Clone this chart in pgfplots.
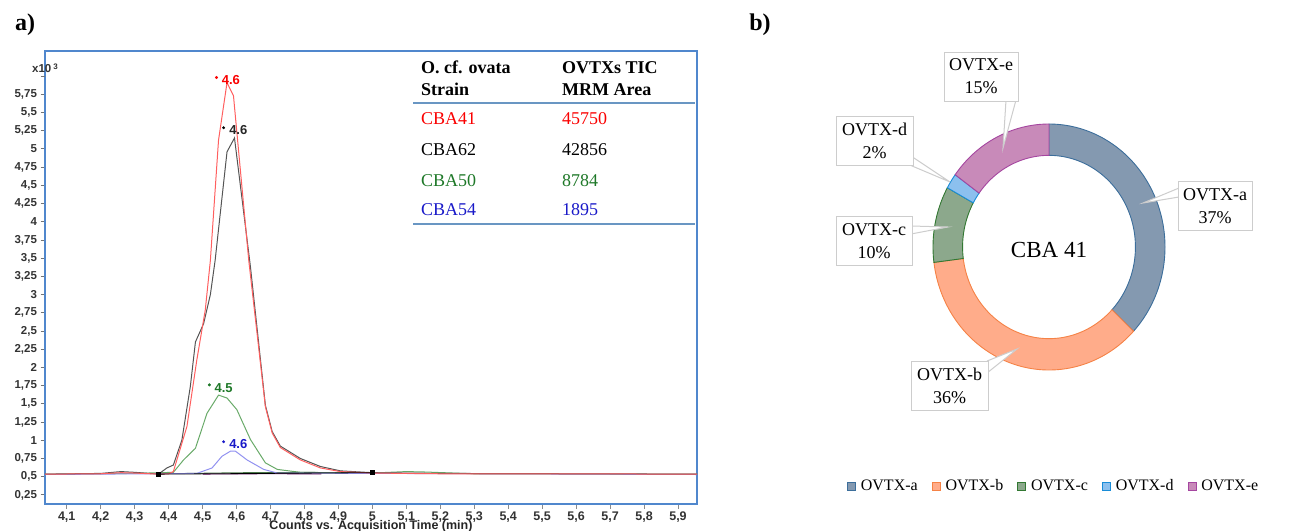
\documentclass[border=0pt]{standalone}
\usepackage{fontspec}
\setmainfont{Liberation Serif}
\newfontfamily\arial{Liberation Sans}
\usepackage{pgfplots}
\pgfplotsset{compat=1.18}
\definecolor{frameblue}{RGB}{80,135,205}
\definecolor{tblue}{RGB}{105,150,195}
\definecolor{redline}{RGB}{255,95,95}
\definecolor{blackline}{RGB}{85,85,85}
\definecolor{greenline}{RGB}{105,170,105}
\definecolor{blueline}{RGB}{145,145,240}
\definecolor{tred}{RGB}{250,0,0}
\definecolor{tgreen}{RGB}{30,120,40}
\definecolor{tblu}{RGB}{25,25,200}
\definecolor{afill}{RGB}{132,153,176}
\definecolor{adraw}{RGB}{60,110,155}
\definecolor{bfill}{RGB}{255,172,138}
\definecolor{bdraw}{RGB}{245,130,70}
\definecolor{cfill}{RGB}{140,168,140}
\definecolor{cdraw}{RGB}{50,120,50}
\definecolor{dfill}{RGB}{140,192,238}
\definecolor{ddraw}{RGB}{25,140,215}
\definecolor{efill}{RGB}{200,138,185}
\definecolor{edraw}{RGB}{165,70,160}
\definecolor{boxgray}{RGB}{205,205,205}
\begin{document}
\begin{tikzpicture}[x=1pt,y=1pt]
\useasboundingbox (0,0) rectangle (1289,-530);
% ---------------- panel a ----------------
\begin{axis}[
  at={(45pt,-504pt)}, anchor=south west, scale only axis,
  width=652pt, height=453pt,
  xmin=4.036, xmax=5.956, ymin=0.125, ymax=6.344,
  axis line style={draw=frameblue, line width=1.3pt},
  xtick={4.1,4.2,4.3,4.4,4.5,4.6,4.7,4.8,4.9,5,5.1,5.2,5.3,5.4,5.5,5.6,5.7,5.8,5.9},
  ytick={0.25,0.5,0.75,1,1.25,1.5,1.75,2,2.25,2.5,2.75,3,3.25,3.5,3.75,4,4.25,4.5,4.75,5,5.25,5.5,5.75},
  extra y ticks={6}, extra y tick labels={},
  ytick pos=left, xtick pos=bottom,
  tick align=outside, major tick length=4.5pt,
  ytick style={draw=black!55, line width=0.9pt},
  xtick style={draw=black!45, line width=0.9pt},
  extra y tick style={ytick style={draw=black!55, line width=0.9pt}},
  tick label style={font=\arial\bfseries\fontsize{11.5}{12}\selectfont, text=black!80},
  xticklabel style={font=\arial\bfseries\fontsize{12.5}{13}\selectfont},
  /pgf/number format/use comma, /pgf/number format/fixed,
  /pgf/number format/precision=2, /pgf/number format/assume math mode=true,
  clip=false,
]
\addplot[greenline, line width=1pt] coordinates {
(4.036,0.535) (4.2,0.54) (4.3,0.545) (4.414,0.56) (4.444,0.73) (4.479,0.89)
(4.513,1.37) (4.547,1.62) (4.572,1.58) (4.601,1.42) (4.641,1.01) (4.685,0.69)
(4.720,0.60) (4.788,0.56) (5.0,0.55) (5.1,0.57) (5.15,0.565) (5.3,0.54) (5.956,0.535)};
\addplot[greenline!70!black, line width=0.8pt] coordinates {
(4.45,0.545) (4.6,0.555) (4.8,0.56) (4.95,0.555)};
\addplot[blueline, line width=1pt] coordinates {
(4.036,0.53) (4.483,0.545) (4.528,0.62) (4.557,0.78) (4.582,0.85) (4.597,0.85)
(4.631,0.73) (4.680,0.60) (4.720,0.55) (5.956,0.53)};
\addplot[violet!70!black, line width=0.8pt] coordinates {
(4.5,0.535) (4.7,0.54) (4.85,0.537)};
\addplot[blackline, line width=1pt] coordinates {
(4.036,0.535) (4.2,0.545) (4.26,0.57) (4.3,0.56) (4.37,0.535) (4.395,0.62)
(4.414,0.66) (4.439,1.0) (4.464,1.74) (4.479,2.35) (4.503,2.6) (4.523,3.0)
(4.537,3.47) (4.572,4.96) (4.594,5.15) (4.641,3.38) (4.685,1.48) (4.705,1.12)
(4.729,0.92) (4.788,0.75) (4.847,0.64) (4.906,0.58) (5.0,0.555) (5.2,0.545) (5.956,0.535)};
\addplot[redline, line width=1pt] coordinates {
(4.036,0.535) (4.2,0.54) (4.26,0.555) (4.3,0.55) (4.37,0.535) (4.40,0.54)
(4.414,0.57) (4.454,1.19) (4.483,2.10) (4.508,2.79) (4.523,3.47) (4.547,5.12)
(4.572,5.91) (4.591,5.73) (4.636,3.47) (4.685,1.46) (4.705,1.10) (4.729,0.90)
(4.788,0.73) (4.847,0.62) (4.906,0.57) (5.0,0.55) (5.1,0.545) (5.2,0.54) (5.5,0.54) (5.956,0.535)};
\addplot[black, line width=0.8pt, mark=square*, mark size=2.2pt] coordinates {
(4.37,0.535) (5.0,0.555)};
% peak markers
\addplot[only marks, mark=*, mark size=1.3pt, tred] coordinates {(4.541,5.98)};
\addplot[only marks, mark=*, mark size=1.3pt, black] coordinates {(4.562,5.29)};
\addplot[only marks, mark=*, mark size=1.3pt, tgreen] coordinates {(4.520,1.76)};
\addplot[only marks, mark=*, mark size=1.3pt, tblu] coordinates {(4.562,0.98)};
\node[anchor=west, inner sep=0pt, text=tred, font=\arial\bfseries\fontsize{13}{14}\selectfont] at (axis cs:4.556,5.95) {4.6};
\node[anchor=west, inner sep=0pt, text=black!85, font=\arial\bfseries\fontsize{13}{14}\selectfont] at (axis cs:4.578,5.26) {4.6};
\node[anchor=west, inner sep=0pt, text=tgreen, font=\arial\bfseries\fontsize{13}{14}\selectfont] at (axis cs:4.535,1.72) {4.5};
\node[anchor=west, inner sep=0pt, text=tblu, font=\arial\bfseries\fontsize{13}{14}\selectfont] at (axis cs:4.578,0.95) {4.6};
\end{axis}
\node[font=\arial\bfseries\fontsize{11.5}{12}\selectfont, text=black!80, anchor=west, inner sep=0pt] at (32,-68) {x10\,\raisebox{3pt}{\fontsize{8}{9}\selectfont 3}};
\node[font=\arial\bfseries\fontsize{12.5}{13}\selectfont, text=black!85] at (371,-526) {Counts vs. Acquisition Time (min)};
\node[font=\bfseries\fontsize{24}{26}\selectfont] at (25,-25) {a)};
\node[font=\bfseries\fontsize{24}{26}\selectfont] at (760,-25) {b)};
% table
\draw[tblue, line width=1.3pt] (413,-103) -- (695,-103);
\draw[tblue, line width=1.3pt] (413,-224) -- (695,-224);
\begin{scope}[every node/.style={anchor=base west, inner sep=0pt, font=\fontsize{18}{22}\selectfont}]
\node[font=\bfseries\fontsize{18}{22}\selectfont] at (421,-73) {O. cf. ovata};
\node[font=\bfseries\fontsize{18}{22}\selectfont] at (421,-95) {Strain};
\node[font=\bfseries\fontsize{18}{22}\selectfont] at (562,-73) {OVTXs TIC};
\node[font=\bfseries\fontsize{18}{22}\selectfont] at (562,-95) {MRM Area};
\node[text=tred] at (421,-124) {CBA41};
\node[text=tred] at (562,-124) {45750};
\node at (421,-155) {CBA62};
\node at (562,-155) {42856};
\node[text=tgreen] at (421,-186) {CBA50};
\node[text=tgreen] at (562,-186) {8784};
\node[text=tblu] at (421,-215) {CBA54};
\node[text=tblu] at (562,-215) {1895};
\end{scope}
% ---------------- panel b ----------------
\begin{axis}[
  at={(933pt,-370pt)}, anchor=south west, scale only axis,
  width=232pt, height=246pt,
  xmin=-1, xmax=1, ymin=-1, ymax=1, hide axis, clip=false,
  declare function={rr(\u)=(\u<0.4975)?1:0.745; ff(\u)=(\u<0.4975)?min(1,\u/0.495):min(1,(1-\u)/0.5);},
  legend columns=5,
  legend style={at={(0.52,-0.472)}, anchor=center, draw=none, fill=none,
    font=\fontsize{16}{18}\selectfont, column sep=3pt,
    /tikz/every even column/.append style={column sep=12pt}},
  legend image code/.code={\draw[#1, line width=0.8pt] (0pt,-4pt) rectangle (8pt,4pt);},
]
\addplot[fill=afill, draw=adraw, line width=0.9pt, domain=0:1, samples=201, variable=\t]
  ({rr(\t)*cos(90-3.6*(0+37*ff(\t)))}, {rr(\t)*sin(90-3.6*(0+37*ff(\t)))}) -- cycle;
\addlegendentry{OVTX-a}
\addplot[fill=bfill, draw=bdraw, line width=0.9pt, domain=0:1, samples=201, variable=\t]
  ({rr(\t)*cos(90-3.6*(37+36*ff(\t)))}, {rr(\t)*sin(90-3.6*(37+36*ff(\t)))}) -- cycle;
\addlegendentry{OVTX-b}
\addplot[fill=cfill, draw=cdraw, line width=0.9pt, domain=0:1, samples=201, variable=\t]
  ({rr(\t)*cos(90-3.6*(73+10*ff(\t)))}, {rr(\t)*sin(90-3.6*(73+10*ff(\t)))}) -- cycle;
\addlegendentry{OVTX-c}
\addplot[fill=dfill, draw=ddraw, line width=0.9pt, domain=0:1, samples=201, variable=\t]
  ({rr(\t)*cos(90-3.6*(83+2*ff(\t)))}, {rr(\t)*sin(90-3.6*(83+2*ff(\t)))}) -- cycle;
\addlegendentry{OVTX-d}
\addplot[fill=efill, draw=edraw, line width=0.9pt, domain=0:1, samples=201, variable=\t]
  ({rr(\t)*cos(90-3.6*(85+15*ff(\t)))}, {rr(\t)*sin(90-3.6*(85+15*ff(\t)))}) -- cycle;
\addlegendentry{OVTX-e}
\end{axis}
\node[font=\fontsize{23}{25}\selectfont] at (1049,-250) {CBA 41};
% callouts
\begin{scope}[boxgray, line width=1pt]
\filldraw[fill=white] (1006,-100) -- (1003,-148) -- (1016,-100);
\filldraw[fill=white] (905,-163) -- (950,-182) -- (911,-156);
\filldraw[fill=white] (911,-226) -- (948,-227) -- (911,-234);
\filldraw[fill=white] (1179,-188) -- (1143,-203) -- (1179,-197);
\filldraw[fill=white] (987,-361) -- (1017,-349) -- (987,-373);
\end{scope}
\begin{scope}[every node/.style={draw=boxgray, line width=1pt, fill=white, align=center, inner sep=0pt, font=\fontsize{18}{23}\selectfont, minimum height=49pt}]
\node[minimum width=74pt] at (981,-76.5) {OVTX-e\\15\%};
\node[minimum width=77pt] at (874.5,-141) {OVTX-d\\2\%};
\node[minimum width=76pt] at (874,-241) {OVTX-c\\10\%};
\node[minimum width=74pt] at (1215,-206) {OVTX-a\\37\%};
\node[minimum width=77pt] at (949.5,-385.5) {OVTX-b\\36\%};
\end{scope}
\end{tikzpicture}
\end{document}
